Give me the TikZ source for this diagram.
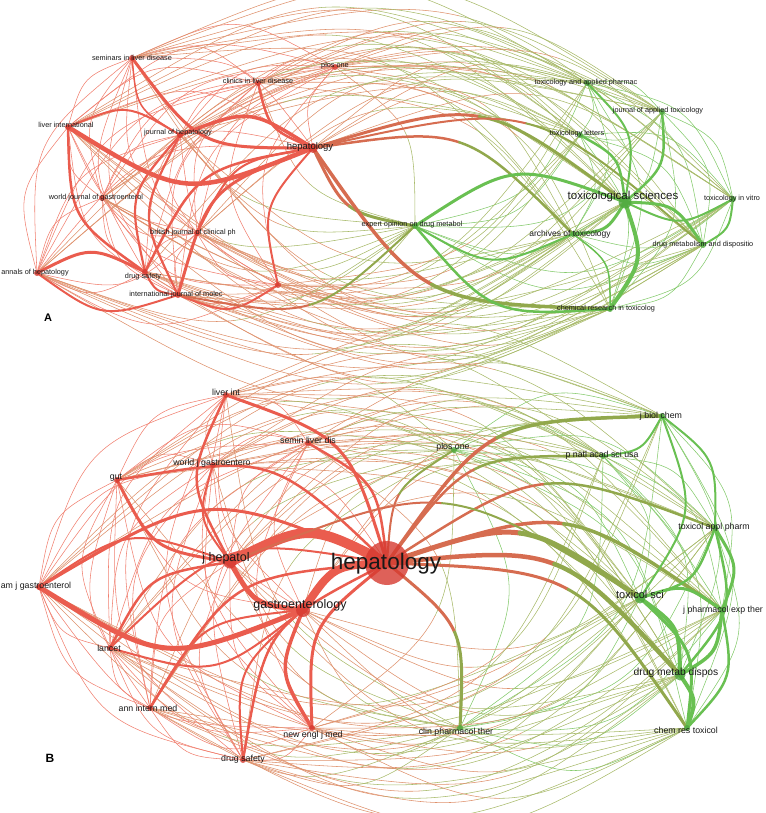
\documentclass[tikz,border=0pt]{standalone}
\usepackage{fontspec}
\setmainfont{Liberation Sans}
\usetikzlibrary{calc}
\definecolor{redthin}{RGB}{240,128,112}
\definecolor{greenthin}{RGB}{132,202,108}
\definecolor{mixr}{RGB}{222,145,108}
\definecolor{mixg}{RGB}{168,186,106}
\definecolor{mixrk}{RGB}{214,108,80}
\definecolor{mixgk}{RGB}{145,168,76}
\definecolor{redk}{RGB}{234,92,78}
\definecolor{greenk}{RGB}{105,192,82}
\definecolor{rdot}{RGB}{214,58,48}
\definecolor{gdot}{RGB}{78,168,62}
\newcommand\bk{0.25}
\newcommand\ctr{ca}
\newcommand\arcpt[3]{%
  \path let \p1=(#1),\p2=(#2),\p3=(\ctr),
    \n1={ifthenelse(#3==0,ifthenelse(((\x2-\x1)/100)*((\y3-\y1)/100)-((\y2-\y1)/100)*((\x3-\x1)/100)>0,1,-1),#3)}
  in ({(\x1+\x2)/2+\n1*\bk*(\y2-\y1)},{(\y1+\y2)/2-\n1*\bk*(\x2-\x1)}) coordinate (tc);}
\newcommand\lk[5]{\arcpt{#1}{#2}{#5}%
  \draw[line width=#3,draw=#4,line cap=round] (#1) .. controls (tc) .. (#2);}
\newcommand\lkm[6]{\arcpt{#1}{#2}{#4}%
  \path ($(#1)!0.5!(#2)$) coordinate (tmid);
  \path ($(tmid)!0.75!(tc)$) coordinate (tm);
  \draw[line width=#3,draw=#5,line cap=round] (#1) .. controls ($(#1)!0.5!(tc)$) and ($(#1)!0.75!(tc)$) .. (tm);
  \draw[line width=#3,draw=#6,line cap=round] (tm) .. controls ($(#2)!0.75!(tc)$) and ($(#2)!0.5!(tc)$) .. (#2);}
\begin{document}
\begin{tikzpicture}[x=1pt,y=-1pt,
  lblA/.style={font=\fontsize{7.3}{8}\selectfont,text=black!90,inner sep=0pt},
  lblB/.style={font=\fontsize{8.8}{10}\selectfont,text=black!90,inner sep=0pt},
  panel/.style={font=\fontsize{11}{12}\selectfont\bfseries,inner sep=0pt}]
\useasboundingbox (0,0) rectangle (765,813);
% ---------- panel A coordinates
\coordinate (ca) at (385,185);
\coordinate (a1) at (132,58);
\coordinate (a2) at (258,83);
\coordinate (a3) at (335,67);
\coordinate (a4) at (68,127);
\coordinate (a5) at (180,135);
\coordinate (a6) at (313,148);
\coordinate (a7) at (102,198);
\coordinate (a8) at (197,233);
\coordinate (a9) at (37,273);
\coordinate (a10) at (145,272);
\coordinate (a11) at (178,295);
\coordinate (a12) at (278,285);
\coordinate (b1) at (415,226);
\coordinate (b2) at (587,83);
\coordinate (b3) at (662,112);
\coordinate (b4) at (580,135);
\coordinate (b5) at (625,202);
\coordinate (b6) at (733,199);
\coordinate (b7) at (573,234);
\coordinate (b8) at (703,245);
\coordinate (b9) at (610,309);
% ---------- panel B coordinates
\coordinate (cb) at (380,585);
\coordinate (c1) at (226,395);
\coordinate (c2) at (308,443);
\coordinate (c3) at (213,465);
\coordinate (c4) at (117,480);
\coordinate (c5) at (230,562);
\coordinate (c6) at (39,587);
\coordinate (c7) at (303,610);
\coordinate (c8) at (110,648);
\coordinate (c9) at (150,708);
\coordinate (c10) at (312,728);
\coordinate (c11) at (243,760);
\coordinate (c12) at (387,563);
\coordinate (d1) at (454,450);
\coordinate (d2) at (662,416);
\coordinate (d3) at (603,456);
\coordinate (d4) at (715,528);
\coordinate (d5) at (640,598);
\coordinate (d6) at (722,610);
\coordinate (d7) at (680,675);
\coordinate (d8) at (460,728);
\coordinate (d9) at (687,728);
% ================= thin edges A
\renewcommand\ctr{ca}
\foreach \i in {1,...,11}{\pgfmathtruncatemacro\ip{\i+1}\foreach \j in {\ip,...,12}{\lk{a\i}{a\j}{0.55pt}{redthin}{0}}}
\foreach \i in {1,...,8}{\pgfmathtruncatemacro\ip{\i+1}\foreach \j in {\ip,...,9}{\lk{b\i}{b\j}{0.55pt}{greenthin}{0}}}
\foreach \i in {1,...,12}{\foreach \j in {1,...,9}{\lkm{a\i}{b\j}{0.55pt}{0}{mixr}{mixg}}}
% thick A
\lk{a4}{a6}{4.5pt}{redk}{1}
\lk{a4}{a5}{2pt}{redk}{0}
\lk{a1}{a6}{3pt}{redk}{1}
\lk{a5}{a6}{3.5pt}{redk}{0}
\lk{a2}{a6}{2.5pt}{redk}{0}
\lk{a6}{a11}{3pt}{redk}{0}
\lk{a6}{a10}{2.5pt}{redk}{0}
\lk{a6}{a8}{2pt}{redk}{0}
\lk{a6}{a12}{2pt}{redk}{0}
\lk{a9}{a10}{3pt}{redk}{-1}
\lk{a9}{a11}{2pt}{redk}{0}
\lk{a4}{a10}{2.5pt}{redk}{0}
\lk{a5}{a10}{2.2pt}{redk}{0}
\lk{a5}{a11}{2.2pt}{redk}{0}
\lk{a1}{a5}{1.5pt}{redk}{0}
\lk{a10}{a11}{2pt}{redk}{0}
\lk{a11}{a12}{2pt}{redk}{0}
\lkm{a6}{b5}{3pt}{0}{mixrk}{mixgk}
\lkm{a6}{b1}{3pt}{0}{mixrk}{mixgk}
\lkm{a6}{b9}{3.5pt}{1}{mixrk}{mixgk}
\lkm{a6}{b7}{2.5pt}{0}{mixrk}{mixgk}
\lkm{a11}{b1}{2pt}{0}{mixrk}{mixgk}
\lkm{a6}{b8}{2pt}{0}{mixrk}{mixgk}
\lk{b1}{b5}{3pt}{greenk}{-1}
\lk{b1}{b9}{2.5pt}{greenk}{1}
\lk{b1}{b7}{2pt}{greenk}{0}
\lk{b5}{b9}{4pt}{greenk}{0}
\lk{b5}{b7}{3pt}{greenk}{0}
\lk{b5}{b8}{3pt}{greenk}{0}
\lk{b5}{b3}{2.5pt}{greenk}{0}
\lk{b5}{b4}{2.5pt}{greenk}{0}
\lk{b5}{b2}{2pt}{greenk}{0}
\lk{b5}{b6}{2pt}{greenk}{0}
\lk{b8}{b6}{2pt}{greenk}{0}
\lk{b7}{b9}{1.5pt}{greenk}{0}
% ================= thin edges B
\renewcommand\ctr{cb}
\foreach \i in {1,...,11}{\pgfmathtruncatemacro\ip{\i+1}\foreach \j in {\ip,...,12}{\lk{c\i}{c\j}{0.55pt}{redthin}{0}}}
\foreach \i in {1,...,8}{\pgfmathtruncatemacro\ip{\i+1}\foreach \j in {\ip,...,9}{\lk{d\i}{d\j}{0.55pt}{greenthin}{0}}}
\foreach \i in {1,...,12}{\foreach \j in {1,...,9}{\lkm{c\i}{d\j}{0.55pt}{0}{mixr}{mixg}}}
% thick B
\lk{c6}{c7}{5pt}{redk}{0}
\lk{c6}{c12}{3pt}{redk}{0}
\lk{c6}{c5}{2pt}{redk}{0}
\lk{c4}{c5}{3pt}{redk}{0}
\lk{c4}{c12}{2.5pt}{redk}{0}
\lk{c1}{c12}{3pt}{redk}{0}
\lk{c1}{c5}{2.5pt}{redk}{0}
\lk{c2}{c12}{2.5pt}{redk}{0}
\lk{c3}{c5}{2pt}{redk}{0}
\lk{c12}{c10}{3pt}{redk}{0}
\lk{c7}{c10}{3.5pt}{redk}{0}
\lk{c12}{c11}{2.5pt}{redk}{0}
\lk{c12}{c9}{2.5pt}{redk}{0}
\lk{c8}{c5}{2.5pt}{redk}{0}
\lk{c8}{c7}{2pt}{redk}{0}
\lk{c12}{c8}{2pt}{redk}{0}
\lk{c9}{c7}{2pt}{redk}{0}
\lk{c11}{c7}{2pt}{redk}{0}
\lk{c5}{c7}{5pt}{redk}{0}
\lk{c5}{c12}{10pt}{redk}{0}
\lk{c7}{c12}{8pt}{redk}{0}
\lkm{c12}{d5}{5pt}{0}{mixrk}{mixgk}
\lkm{c12}{d7}{4.5pt}{0}{mixrk}{mixgk}
\lkm{c12}{d6}{3.5pt}{0}{mixrk}{mixgk}
\lkm{c12}{d9}{3pt}{0}{mixrk}{mixgk}
\lkm{c12}{d8}{3pt}{0}{mixrk}{mixgk}
\lkm{c12}{d2}{3.5pt}{0}{mixrk}{mixgk}
\lkm{c12}{d3}{2.5pt}{0}{mixrk}{mixgk}
\lkm{c12}{d4}{2.5pt}{0}{mixrk}{mixgk}
\lkm{c12}{d1}{2pt}{0}{mixrk}{mixgk}
\lkm{c5}{d5}{2pt}{0}{mixrk}{mixgk}
\lk{d5}{d7}{4pt}{greenk}{0}
\lk{d5}{d6}{3pt}{greenk}{0}
\lk{d5}{d9}{3pt}{greenk}{0}
\lk{d7}{d9}{4pt}{greenk}{0}
\lk{d7}{d6}{3.5pt}{greenk}{0}
\lk{d4}{d6}{3pt}{greenk}{0}
\lk{d5}{d4}{2.5pt}{greenk}{0}
\lk{d2}{d3}{2pt}{greenk}{0}
\lk{d7}{d4}{2.5pt}{greenk}{0}
\lk{d9}{d6}{2.5pt}{greenk}{0}
\lk{d2}{d4}{2pt}{greenk}{0}
\lk{d2}{d5}{2pt}{greenk}{0}
% ================= dots
\foreach \n in {a1,a2,a3,a4,a5,a7,a8,a9,a10,a11,a12,c1,c2,c3,c4,c6,c8,c9,c10,c11}{\fill[rdot,opacity=0.8] (\n) circle (3);}
\foreach \n in {b1,b2,b3,b4,b6,b7,b8,b9,d1,d2,d3,d4,d6,d8,d9}{\fill[gdot,opacity=0.8] (\n) circle (3);}
\fill[rdot,opacity=0.8] (a6) circle (5);
\fill[gdot,opacity=0.8] (b5) circle (6.5);
\fill[rdot,opacity=0.8] (c5) circle (6.5);
\fill[rdot,opacity=0.8] (c7) circle (7);
\fill[rdot,opacity=0.8] (c12) circle (22);
\fill[gdot,opacity=0.8] (d5) circle (5.5);
\fill[gdot,opacity=0.8] (d7) circle (5.5);
% ================= labels A
\node[lblA] (l1) at (132,58) {seminars in liver disease};
\node[lblA] (l2) at (258,81) {clinics in liver disease};
\node[lblA] (l3) at (335,66) {plos one};
\node[lblA] (l4) at (66,125) {liver international};
\node[lblA] (l5) at (178,133) {journal of hepatology};
\node[lblA,font=\fontsize{9.5}{11}\selectfont] (l6) at (310,147) {hepatology};
\node[lblA] (l7) at (96,198) {world journal of gastroenterol};
\node[lblA] (l8) at (193,233) {british journal of clinical ph};
\node[lblA] (l9) at (35,273) {annals of hepatology};
\node[lblA] (l10) at (143,277) {drug safety};
\node[lblA] (l11) at (176,295) {international journal of molec};
\node[lblA] (m1) at (412,225) {expert opinion on drug metabol};
\node[lblA] (m2) at (586,83) {toxicology and applied pharmac};
\node[lblA] (m3) at (658,111) {journal of applied toxicology};
\node[lblA] (m4) at (577,134) {toxicology letters};
\node[lblA,font=\fontsize{11.5}{13}\selectfont] (m5) at (623,197) {toxicological sciences};
\node[lblA] (m6) at (732,199) {toxicology in vitro};
\node[lblA,font=\fontsize{8.5}{10}\selectfont] (m7) at (570,234) {archives of toxicology};
\node[lblA] (m8) at (703,245) {drug metabolism and dispositio};
\node[lblA] (m9) at (606,309) {chemical research in toxicolog};
\node[panel] (pA) at (48,318) {A};
% ================= labels B
\node[lblB] (n1) at (226,392) {liver int};
\node[lblB] (n2) at (308,440) {semin liver dis};
\node[lblB] (n3) at (212,463) {world j gastroentero};
\node[lblB] (n4) at (116,478) {gut};
\node[lblB,font=\fontsize{12.5}{14}\selectfont] (n5) at (226,558) {j hepatol};
\node[lblB] (n6) at (36,586) {am j gastroenterol};
\node[lblB,font=\fontsize{12.5}{14}\selectfont] (n7) at (300,605) {gastroenterology};
\node[lblB] (n8) at (109,648) {lancet};
\node[lblB] (n9) at (148,708) {ann intern med};
\node[lblB] (n10) at (313,735) {new engl j med};
\node[lblB] (n11) at (243,759) {drug safety};
\node[lblB,font=\fontsize{22.5}{25}\selectfont] (n12) at (386,564) {hepatology};
\node[lblB] (o1) at (453,447) {plos one};
\node[lblB] (o2) at (661,416) {j biol chem};
\node[lblB] (o3) at (602,455) {p natl acad sci usa};
\node[lblB] (o4) at (714,527) {toxicol appl pharm};
\node[lblB,font=\fontsize{11}{13}\selectfont] (o5) at (640,595) {toxicol sci};
\node[lblB] (o6) at (723,610) {j pharmacol exp ther};
\node[lblB,font=\fontsize{10.3}{12}\selectfont] (o7) at (676,673) {drug metab dispos};
\node[lblB] (o8) at (456,732) {clin pharmacol ther};
\node[lblB] (o9) at (686,730) {chem res toxicol};
\node[panel,font=\fontsize{12}{13}\selectfont\bfseries] (pB) at (50,758) {B};
\end{tikzpicture}
\end{document}
